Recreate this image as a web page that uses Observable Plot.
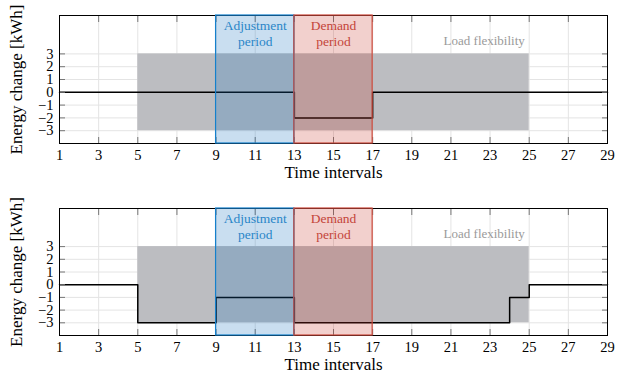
<!DOCTYPE html>
<html>
<head>
<meta charset="utf-8">
<script src="https://cdn.jsdelivr.net/npm/d3@7"></script>
<script src="https://cdn.jsdelivr.net/npm/@observablehq/plot@0.6"></script>
<style>
  html, body { margin: 0; padding: 0; background: #fff; }
  #charts svg { display: block; }
</style>
</head>
<body>
<div id="charts"></div>
<script>
// ---- data ----
const intervals = d3.range(1, 30); // 1..29
const changeTop = [0,0,0,0,0,0,0,0,0,0,0,0,-2,-2,-2,-2,0,0,0,0,0,0,0,0,0,0,0,0,0];
const changeBottom = [0,0,0,0,-3,-3,-3,-3,-1,-1,-1,-1,-3,-3,-3,-3,-3,-3,-3,-3,-3,-3,-3,-1,0,0,0,0,0];
const xTicks = [1,3,5,7,9,11,13,15,17,19,21,23,25,27,29];
const yTicks = [-3,-2,-1,0,1,2,3];
const flexibility = [{x1: 5, x2: 25, y1: -3, y2: 3, label: "Load flexibility", lx: 22.7, ly: 4}];
const periods = [
  {name: "Adjustment\nperiod", x1: 9, x2: 13, fill: "#1672c0", stroke: "#1580cc", text: "#2a86c8"},
  {name: "Demand\nperiod", x1: 13, x2: 17, fill: "#c83228", stroke: "#cc4a3c", text: "#c4453a"}
];
const yDomain = [-4, 6];
const xLabel = "Time intervals";
const yLabel = "Energy change [kWh]";

const font = "'Liberation Serif', 'DejaVu Serif', serif";

function makeChart(values, height, marginTop, marginBottom) {
  const series = intervals.map((x, i) => ({x, y: values[i]}));
  return Plot.plot({
    width: 617,
    height,
    marginLeft: 59,
    marginRight: 10,
    marginTop,
    marginBottom,
    style: {fontFamily: font, fontSize: "14px", color: "#000", background: "#fff"},
    x: {domain: [1, 29]},
    y: {domain: yDomain},
    marks: [
      Plot.gridX(xTicks, {stroke: "#e4e4e4", strokeOpacity: 1}),
      Plot.gridY(yTicks, {stroke: "#e4e4e4", strokeOpacity: 1}),
      Plot.rect(flexibility, {x1: "x1", x2: "x2", y1: "y1", y2: "y2", fill: "#bcbdc1"}),
      Plot.line(series, {x: "x", y: "y", curve: "step-after", stroke: "#000", strokeWidth: 1.5}),
      Plot.axisX(xTicks, {anchor: "bottom", tickSize: 6, insetBottom: 6, stroke: "#777", tickPadding: 6, label: null, fontSize: 14.5, fill: "#000"}),
      Plot.axisX(xTicks, {anchor: "top", tickSize: 6, insetTop: 6, stroke: "#777", tickFormat: () => "", label: null}),
      Plot.axisY(yTicks, {anchor: "left", tickSize: 6, insetLeft: 6, stroke: "#777", tickPadding: 6, label: null, fontSize: 14.5, fill: "#000"}),
      Plot.axisY(yTicks, {anchor: "right", tickSize: 6, insetRight: 6, stroke: "#777", tickFormat: () => "", label: null}),
      Plot.frame({stroke: "#000", strokeWidth: 1}),
      Plot.rect(periods, {x1: "x1", x2: "x2", y1: yDomain[0], y2: yDomain[1], fill: "fill", fillOpacity: 0.23}),
      Plot.rect(periods, {x1: "x1", x2: "x2", y1: yDomain[0], y2: yDomain[1], fill: "none", stroke: "stroke", strokeWidth: 1.2}),
      Plot.text(periods, {x: d => (d.x1 + d.x2) / 2, y: 4.65, text: "name", fill: "text", fontSize: 13.5, lineHeight: 1.2}),
      Plot.text(flexibility, {x: "lx", y: "ly", text: "label", fill: "#9a9a9a", fontSize: 13}),
      Plot.text([yLabel], {frameAnchor: "left", textAnchor: "middle", rotate: -90, dx: -43, fontSize: 17, fill: "#000"}),
      Plot.text([xLabel], {frameAnchor: "bottom", dy: 34, fontSize: 17, fill: "#000"})
    ]
  });
}

const root = document.getElementById("charts");
root.appendChild(makeChart(changeTop, 190, 15, 47));
root.appendChild(makeChart(changeBottom, 193, 18, 48));
</script>
</body>
</html>
